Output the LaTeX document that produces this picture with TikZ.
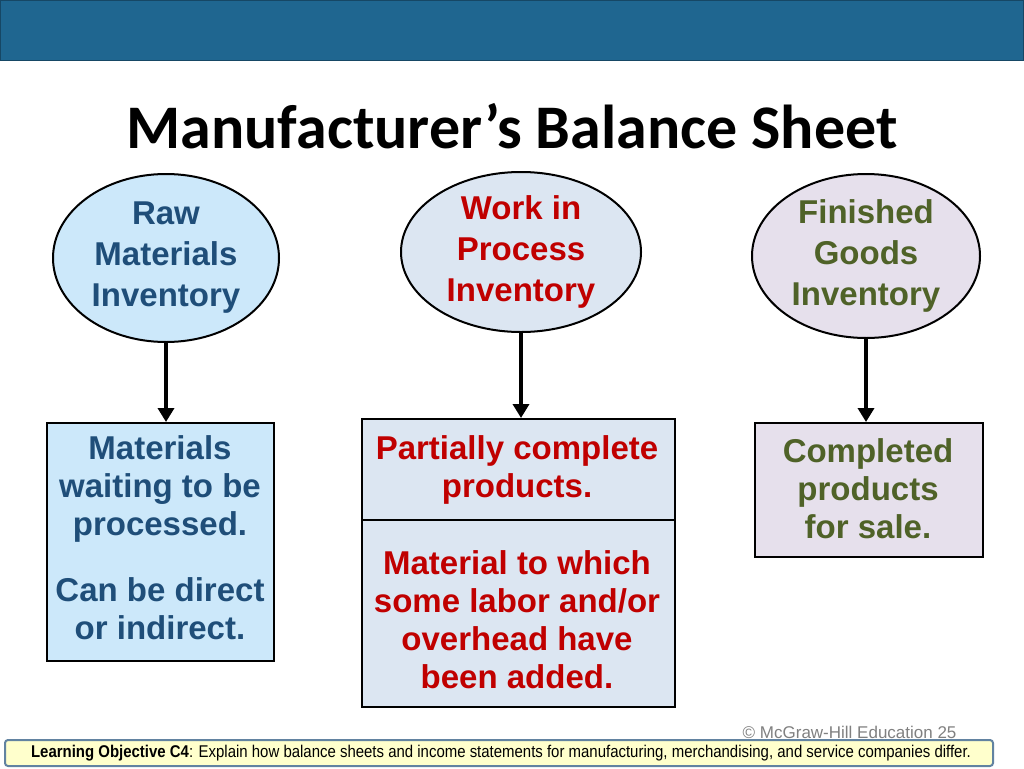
\documentclass[tikz,border=0pt]{standalone}
\usepackage{fontspec}
\setmainfont{Liberation Sans}
\newfontfamily\titlefont{Carlito}
\usetikzlibrary{shapes.geometric,arrows.meta}
\definecolor{barblue}{HTML}{1F6690}
\definecolor{rmfill}{HTML}{CCE8FA}
\definecolor{rmtext}{HTML}{1F4E79}
\definecolor{wipfill}{HTML}{DCE6F2}
\definecolor{wiptext}{HTML}{C00000}
\definecolor{fgfill}{HTML}{E6E0EC}
\definecolor{fgtext}{HTML}{4F6228}
\definecolor{lofill}{HTML}{FFFFCC}
\tikzset{
  inv/.style={ellipse,draw=black,line width=2pt,inner sep=0pt,align=center,
    font=\fontsize{33}{41}\selectfont\bfseries},
  descbox/.style={draw=black,line width=2pt,align=center,anchor=north west},
  desctext/.style={align=center,font=\fontsize{33}{38}\selectfont\bfseries},
  flow/.style={line width=4.5pt,-{Triangle[length=14pt,width=16pt]}}
}
\begin{document}
\begin{tikzpicture}[x=1pt,y=-1pt]
  \useasboundingbox (0,0) rectangle (1024,768);
  % top bar
  \fill[barblue] (0,0) rectangle (1024,60);
  \draw[barblue!70!black,line width=1pt] (0.5,0.5) rectangle (1023.5,60);
  % title
  \node (title) at (512,126) {\titlefont\bfseries\fontsize{62}{66}\selectfont Manufacturer’s Balance Sheet};
  % ellipses
  \node[inv,fill=rmfill,text=rmtext,minimum width=226pt,minimum height=168pt] (rm) at (166,258) {Raw\\Materials\\Inventory};
  \node[inv,fill=wipfill,text=wiptext,minimum width=240pt,minimum height=160pt] (wip) at (521,252) {Work in\\Process\\Inventory};
  \node[inv,fill=fgfill,text=fgtext,minimum width=228pt,minimum height=164pt] (fg) at (866,256) {Finished\\Goods\\Inventory};
  % boxes
  \node[descbox,fill=rmfill,minimum width=227pt,minimum height=238pt,inner sep=0pt] (rmbox) at (46,422) {};
  \node[desctext,text=rmtext] (rmtxt) at (160,538) {Materials\\waiting to be\\processed.\\[0.85em]Can be direct\\or indirect.};
  \node[descbox,fill=wipfill,minimum width=313pt,minimum height=288pt,inner sep=0pt] (wipbox) at (361,418) {};
  \draw[line width=2pt] (361,520) -- (674,520);
  \node[desctext,text=wiptext] (wiptop) at (517,470) {Partially complete\\products.};
  \node[desctext,text=wiptext] (wipbot) at (517,620) {Material to which\\some labor and/or\\overhead have\\been added.};
  \node[descbox,fill=fgfill,minimum width=228pt,minimum height=134pt,inner sep=0pt] (fgbox) at (754,422) {};
  \node[desctext,text=fgtext] (fgtxt) at (868,489) {Completed\\products\\for sale.};
  % arrows
  \draw[flow] (rm.south) -- (rmbox.north -| rm.south);
  \draw[flow] (wip.south) -- (wipbox.north -| wip.south);
  \draw[flow] (fg.south) -- (fgbox.north -| fg.south);
  % footer
  \node[anchor=east,text=gray,font=\fontsize{17}{20}\selectfont] (copy) at (960,732) {© McGraw-Hill Education 25};
  \node[draw=rmtext!70,line width=2pt,fill=lofill,rounded corners=3pt,minimum width=988pt,minimum height=26pt,inner sep=0pt] (lo) at (499,753) {};
  \node[font=\fontsize{17}{19}\selectfont] (lotxt) at (501,753) {\scalebox{0.88}[1]{\bfseries Learning Objective C4\mdseries: Explain how balance sheets and income statements for manufacturing, merchandising, and service companies differ.}};
\end{tikzpicture}
\end{document}
